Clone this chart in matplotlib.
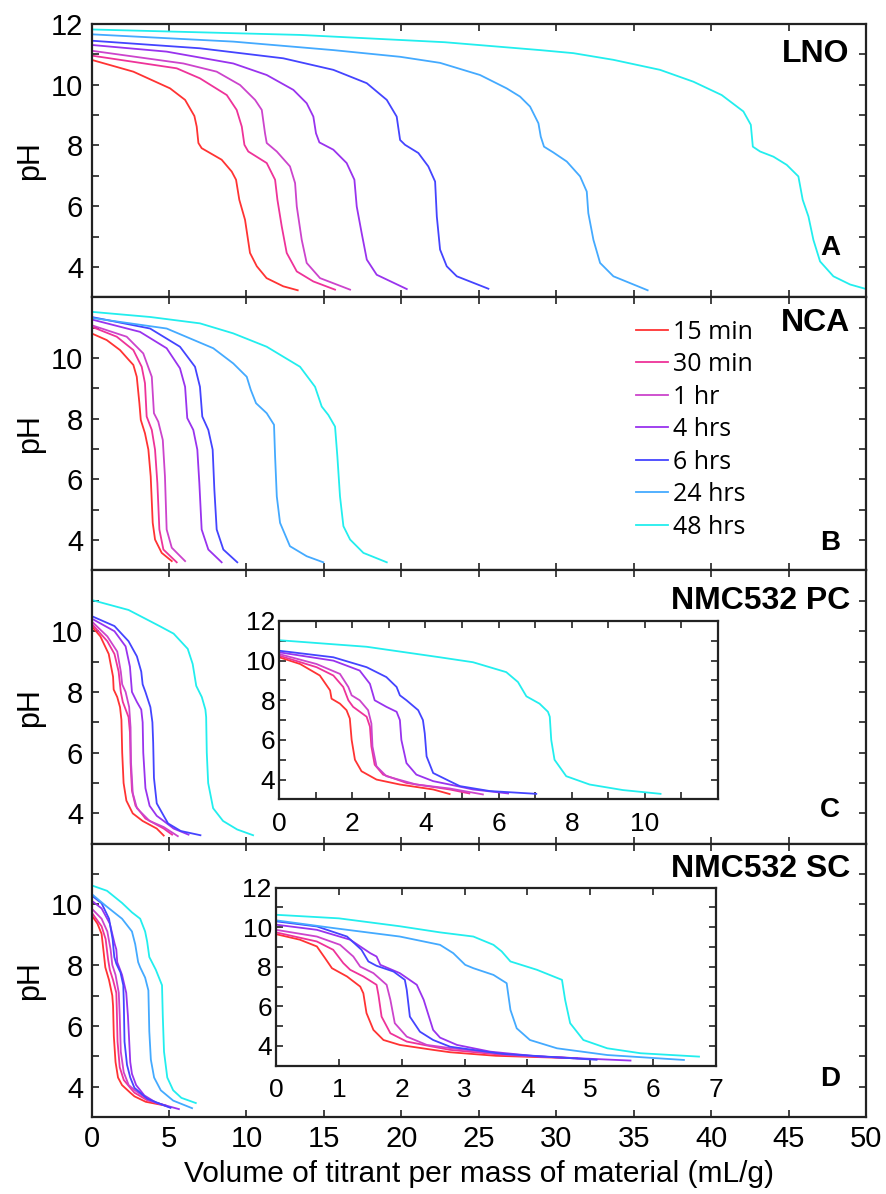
import matplotlib
matplotlib.use("Agg")
import matplotlib.pyplot as plt
from matplotlib.ticker import MultipleLocator, FixedLocator

plt.rcParams['font.family'] = ['Liberation Sans', 'DejaVu Sans']

# titration time labels and colours
times = ['15 min', '30 min', '1 hr', '4 hrs', '6 hrs', '24 hrs', '48 hrs']
colors = ['#ff3333', '#ee3399', '#cc44cc', '#9933ee', '#4444ff', '#44aaff', '#22eeee']

# ---- LNO: volume (mL/g), pH ----
lno_15m = ([0, 2.7, 5.07, 6.04, 6.64, 6.79, 6.9, 7.11, 8.4, 9.05, 9.33, 9.54, 9.91, 10.23, 10.67, 11.3, 12.38, 13.31],
           [10.82, 10.43, 9.88, 9.5, 8.97, 8.62, 8.08, 7.91, 7.53, 7.14, 6.87, 6.21, 5.55, 4.46, 4.02, 3.63, 3.36, 3.23])
lno_30m = ([0, 5.5, 7.0, 8.73, 9.37, 9.7, 9.87, 10.12, 11.31, 11.85, 12.0, 12.28, 12.6, 13.25, 14.32, 15.72],
           [10.96, 10.54, 10.21, 9.66, 9.17, 8.62, 8.02, 7.8, 7.42, 6.87, 6.21, 5.33, 4.46, 3.85, 3.52, 3.25])
lno_1h = ([0, 5.93, 8.08, 9.59, 10.56, 10.99, 11.2, 11.31, 11.96, 12.81, 13.14, 13.25, 13.57, 13.89, 14.75, 16.69],
          [11.12, 10.7, 10.43, 9.99, 9.5, 9.17, 8.4, 8.08, 7.8, 7.31, 6.76, 5.99, 4.89, 4.13, 3.63, 3.25])
lno_4h = ([0, 4.85, 9.15, 11.31, 13.03, 13.89, 14.32, 14.49, 14.71, 15.61, 16.47, 16.97, 17.12, 17.44, 17.77, 18.41, 20.35],
          [11.31, 11.09, 10.7, 10.32, 9.83, 9.39, 8.95, 8.4, 8.1, 7.86, 7.42, 6.87, 5.99, 5.11, 4.24, 3.74, 3.27])
lno_6h = ([0, 7.0, 12.38, 15.61, 17.77, 19.06, 19.7, 19.92, 20.24, 21.1, 21.74, 22.18, 22.29, 22.5, 22.93, 23.58, 25.62],
          [11.45, 11.2, 10.87, 10.49, 10.05, 9.5, 8.95, 8.18, 8.02, 7.75, 7.31, 6.81, 5.66, 4.57, 4.02, 3.69, 3.28])
lno_24h = ([0, 9.15, 15.61, 19.92, 22.5, 25.08, 26.8, 27.66, 28.31, 28.85, 29.0, 29.21, 29.81, 30.68, 31.54, 31.97,
            32.07, 32.4, 32.83, 33.69, 35.9],
           [11.66, 11.42, 11.14, 10.92, 10.72, 10.32, 9.88, 9.61, 9.28, 8.73, 8.29, 7.96, 7.77, 7.47, 6.98, 6.48,
            5.77, 4.89, 4.13, 3.69, 3.23])
lno_48h = ([0, 13.46, 22.8, 28.96, 31.1, 33.69, 36.7, 38.85, 40.68, 42.08, 42.56, 42.69, 43.16, 44.02, 44.88, 45.63,
            45.91, 46.28, 46.6, 47.03, 47.89, 48.97, 50.15],
           [11.82, 11.64, 11.4, 11.14, 11.04, 10.82, 10.49, 10.1, 9.66, 9.12, 8.68, 7.96, 7.8, 7.63, 7.36, 6.98,
            6.21, 5.66, 4.89, 4.18, 3.69, 3.42, 3.25])

# ---- NCA ----
nca_15m = ([0, 0.98, 1.84, 2.38, 2.7, 2.92, 3.09, 3.18, 3.45, 3.67, 3.82, 3.95, 4.1, 4.53, 5.18],
           [10.81, 10.59, 10.26, 9.95, 9.77, 9.38, 8.51, 7.96, 7.52, 6.98, 6.1, 4.57, 4.02, 3.58, 3.31])
nca_30m = ([0, 1.63, 2.7, 3.24, 3.45, 3.56, 3.89, 4.1, 4.25, 4.38, 4.64, 5.5],
           [11.03, 10.7, 10.26, 9.71, 9.17, 8.07, 7.63, 6.98, 5.88, 4.35, 3.69, 3.27])
nca_1h = ([0, 2.27, 3.34, 3.89, 4.03, 4.31, 4.6, 4.74, 4.85, 5.18, 6.04],
          [11.08, 10.7, 10.15, 9.38, 8.18, 7.9, 7.3, 6.1, 4.35, 3.75, 3.31])
nca_4h = ([0, 3.13, 4.85, 5.71, 6.04, 6.18, 6.57, 6.83, 6.96, 7.11, 7.54, 8.4],
          [11.27, 10.86, 10.32, 9.66, 9.05, 8.02, 7.63, 6.98, 5.88, 4.35, 3.69, 3.27])
nca_6h = ([0, 3.78, 5.71, 6.68, 7.0, 7.15, 7.54, 7.82, 7.93, 8.08, 8.51, 9.41],
          [11.35, 10.97, 10.37, 9.71, 9.05, 8.07, 7.63, 6.98, 5.66, 4.35, 3.69, 3.27])
nca_24h = ([0, 4.85, 7.86, 9.15, 10.02, 10.28, 10.62, 11.31, 11.78, 11.85, 11.96, 12.17, 12.81, 13.89, 14.96],
           [11.32, 10.97, 10.32, 9.82, 9.38, 8.95, 8.51, 8.18, 7.8, 6.76, 5.44, 4.57, 3.8, 3.47, 3.27])
nca_48h = ([0, 3.78, 7.0, 9.15, 11.31, 13.46, 14.43, 14.86, 15.29, 15.72, 15.87, 16.04, 16.26, 16.69, 17.55, 19.06],
           [11.52, 11.35, 11.14, 10.81, 10.37, 9.71, 9.05, 8.4, 8.12, 7.74, 6.76, 5.44, 4.46, 4.02, 3.58, 3.27])

# ---- NMC532 PC (no 24 hrs run) ----
pc_15m = ([0, 0.57, 1.11, 1.39, 1.43, 1.66, 1.84, 1.93, 1.98, 2.07, 2.25, 2.66, 3.3, 4.21, 4.66],
          [10.17, 9.83, 9.25, 8.5, 8.08, 7.83, 7.5, 7.08, 6.0, 5.0, 4.42, 4.0, 3.75, 3.5, 3.27])
pc_30m = ([0, 1.02, 1.48, 1.75, 1.89, 2.02, 2.39, 2.48, 2.52, 2.61, 2.84, 3.48, 4.66, 5.2],
          [10.25, 9.67, 9.25, 8.67, 8.0, 7.67, 7.17, 6.67, 5.67, 4.75, 4.25, 3.83, 3.5, 3.3])
pc_1h = ([0, 1.02, 1.66, 1.89, 1.98, 2.2, 2.43, 2.52, 2.55, 2.66, 2.93, 3.75, 4.66, 5.57],
         [10.33, 9.83, 9.33, 8.67, 8.25, 8.0, 7.5, 6.83, 5.67, 4.67, 4.17, 3.75, 3.55, 3.25])
pc_4h = ([0, 1.48, 2.2, 2.48, 2.61, 2.93, 3.21, 3.3, 3.34, 3.48, 3.75, 4.21, 4.66, 5.3, 6.26],
         [10.42, 10.0, 9.5, 8.83, 8.0, 7.67, 7.42, 7.0, 6.0, 4.83, 4.25, 3.92, 3.75, 3.5, 3.3])
pc_6h = ([0, 1.48, 2.39, 2.93, 3.21, 3.3, 3.48, 3.8, 3.93, 3.98, 4.03, 4.21, 4.66, 4.94, 5.76, 7.03],
         [10.5, 10.17, 9.67, 9.17, 8.67, 8.25, 8.0, 7.5, 7.0, 6.33, 5.17, 4.33, 3.92, 3.67, 3.42, 3.28])
pc_48h = ([0, 2.39, 4.39, 5.3, 6.21, 6.53, 6.76, 7.12, 7.35, 7.4, 7.44, 7.53, 7.85, 8.49, 9.4, 10.43],
          [11.03, 10.7, 10.17, 9.92, 9.42, 8.92, 8.2, 7.83, 7.42, 7.17, 6.0, 5.0, 4.17, 3.75, 3.47, 3.28])

# ---- NMC532 SC ----
sc_15m = ([0, 0.38, 0.65, 0.78, 0.89, 1.13, 1.34, 1.39, 1.44, 1.55, 1.71, 1.97, 2.5, 2.77, 3.5, 4.73],
          [9.65, 9.37, 9.03, 8.44, 7.93, 7.51, 7.0, 6.66, 5.66, 4.81, 4.3, 4.05, 3.8, 3.68, 3.5, 3.38])
sc_30m = ([0, 0.65, 0.91, 1.07, 1.18, 1.39, 1.6, 1.63, 1.68, 1.82, 2.08, 2.5, 2.77, 3.6, 4.79],
          [9.74, 9.28, 8.86, 8.19, 7.85, 7.51, 7.09, 6.58, 5.48, 4.64, 4.22, 3.96, 3.8, 3.55, 3.38])
sc_1h = ([0, 0.65, 1.02, 1.23, 1.34, 1.55, 1.76, 1.82, 1.89, 2.08, 2.4, 2.77, 3.7, 5.0],
         [9.87, 9.53, 9.11, 8.52, 8.01, 7.68, 7.09, 6.33, 5.15, 4.47, 4.05, 3.89, 3.55, 3.33])
sc_4h = ([0, 0.65, 1.18, 1.5, 1.6, 1.66, 1.97, 2.24, 2.35, 2.5, 2.61, 2.88, 3.41, 4.2, 5.64],
         [10.13, 9.87, 9.37, 8.69, 8.52, 8.1, 7.68, 7.09, 6.33, 4.81, 4.42, 4.05, 3.71, 3.46, 3.26])
sc_6h = ([0, 0.65, 1.13, 1.36, 1.47, 1.6, 1.87, 2.05, 2.08, 2.13, 2.29, 2.5, 2.77, 3.6, 5.1],
         [10.3, 10.04, 9.53, 8.86, 8.27, 8.05, 7.76, 7.34, 6.84, 5.48, 4.72, 4.3, 3.96, 3.6, 3.3])
sc_24h = ([0, 0.91, 1.97, 2.61, 2.82, 3.01, 3.14, 3.46, 3.67, 3.73, 3.83, 4.04, 4.47, 5.27, 6.49],
          [10.35, 9.96, 9.53, 9.11, 8.69, 8.1, 7.93, 7.59, 7.17, 5.82, 4.89, 4.3, 3.88, 3.54, 3.29])
sc_48h = ([0, 1.0, 1.97, 2.61, 3.14, 3.46, 3.59, 3.73, 3.99, 4.15, 4.55, 4.6, 4.68, 4.89, 5.27, 5.8, 6.73],
          [10.63, 10.45, 10.05, 9.74, 9.53, 9.11, 8.78, 8.27, 8.01, 7.85, 7.34, 6.33, 5.15, 4.3, 3.88, 3.63, 3.46])

lno = [lno_15m, lno_30m, lno_1h, lno_4h, lno_6h, lno_24h, lno_48h]
nca = [nca_15m, nca_30m, nca_1h, nca_4h, nca_6h, nca_24h, nca_48h]
pc = [pc_15m, pc_30m, pc_1h, pc_4h, pc_6h, None, pc_48h]
sc = [sc_15m, sc_30m, sc_1h, sc_4h, sc_6h, sc_24h, sc_48h]

LW = 1.3
SPINE = 1.6


def style(ax, size=21):
    for s in ax.spines.values():
        s.set_linewidth(SPINE)
        s.set_color('#222222')
    ax.tick_params(which='both', direction='in', top=True, right=True,
                   length=5, width=1.2, color='#222222', labelsize=size, pad=6)


def draw(ax, curves, label=False):
    for c, col, t in zip(curves, colors, times):
        if c is None:
            # keep the legend entry even when the run is missing
            if label:
                ax.plot([], [], color=col, lw=LW, label=t)
            continue
        ax.plot(c[0], c[1], color=col, lw=LW, label=t if label else None)


fig = plt.figure(figsize=(8.86, 11.94), dpi=100)
left, width = 0.1033, 0.8742
h = 0.22885
bottom0 = 0.0645
axes = []
for i in range(4):
    ax = fig.add_axes([left, bottom0 + (3 - i) * h, width, h])
    axes.append(ax)

panels = [lno, nca, pc, sc]
names = ['LNO', 'NCA', 'NMC532 PC', 'NMC532 SC']
name_y = [0.89, 0.905, 0.889, 0.906]
letters = ['A', 'B', 'C', 'D']
letter_y = [0.18, 0.10, 0.125, 0.14]

for i, ax in enumerate(axes):
    draw(ax, panels[i], label=(i == 1))
    ax.set_xlim(0, 50)
    ax.set_ylim(3, 12)
    ax.xaxis.set_major_locator(MultipleLocator(5))
    ax.yaxis.set_major_locator(FixedLocator([4, 6, 8, 10, 12] if i == 0 else [4, 6, 8, 10]))
    ax.yaxis.set_minor_locator(FixedLocator([5, 7, 9, 11] if i == 0 else [5, 7, 9, 11, 12]))
    style(ax)
    if i < 3:
        ax.tick_params(axis='x', labelbottom=False)
    ax.set_ylabel('pH', fontsize=22, labelpad=4)
    ax.text(0.979, name_y[i], names[i], transform=ax.transAxes, ha='right', va='center',
            fontsize=23, fontweight='bold')
    ax.text(0.9535, letter_y[i], letters[i], transform=ax.transAxes, ha='center', va='center',
            fontsize=20, fontweight='bold')

axes[3].set_xlabel('Volume of titrant per mass of material (mL/g)', fontsize=21.5, labelpad=5)

leg = axes[1].legend(frameon=False, loc='upper left', bbox_to_anchor=(0.69, 0.955),
                     handlelength=1.3, handletextpad=0.2, labelspacing=0.3,
                     borderaxespad=0, prop={'family': ['Open Sans', 'DejaVu Sans'], 'size': 18})

# zoomed views of the two NMC532 panels
ins_c = fig.add_axes([0.3152, 0.3305, 0.4951, 0.1494])
draw(ins_c, pc)
ins_c.set_xlim(0, 12)
ins_c.set_ylim(3, 12)
ins_c.xaxis.set_major_locator(FixedLocator([0, 2, 4, 6, 8, 10]))
ins_c.xaxis.set_minor_locator(MultipleLocator(1))
ins_c.yaxis.set_major_locator(FixedLocator([4, 6, 8, 10, 12]))
ins_c.yaxis.set_minor_locator(MultipleLocator(1))
style(ins_c, 19)
ins_c.tick_params(axis='x', pad=9)
ins_c.tick_params(axis='y', pad=3)

ins_d = fig.add_axes([0.3115, 0.10745, 0.4966, 0.1491])
draw(ins_d, sc)
ins_d.set_xlim(0, 7)
ins_d.set_ylim(3, 12)
ins_d.xaxis.set_major_locator(MultipleLocator(1))
ins_d.yaxis.set_major_locator(FixedLocator([4, 6, 8, 10, 12]))
ins_d.yaxis.set_minor_locator(MultipleLocator(1))
style(ins_d, 19)
ins_d.tick_params(axis='x', pad=9)
ins_d.tick_params(axis='y', pad=3)

fig.savefig('out.png', dpi=100)
